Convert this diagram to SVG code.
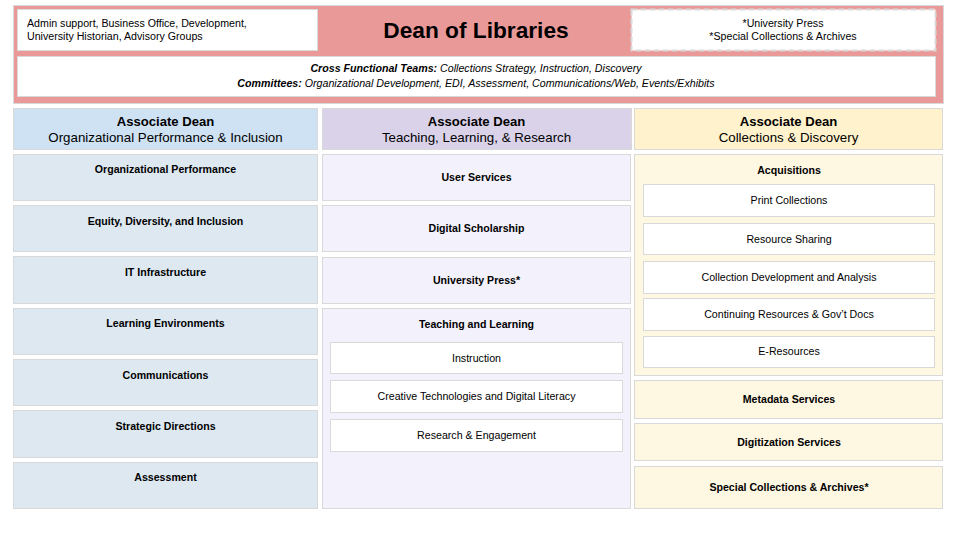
<svg xmlns="http://www.w3.org/2000/svg" width="960" height="540" viewBox="0 0 960 540">
<style>
text{font-family:"Liberation Sans",Arial,sans-serif;fill:#000}
.b{stroke:#d9d9d9;stroke-width:1}
.w{fill:#fff}
.lbl{font-size:10.6px;font-weight:bold;text-anchor:middle}
.sub{font-size:10.65px;text-anchor:middle}
.h1{font-size:13.1px;font-weight:bold;text-anchor:middle}
.h2{font-size:13.3px;text-anchor:middle}
.blue{fill:#dde8f1}
.purple{fill:#f3f1fb}
.yellow{fill:#fef7e2}
</style>
<rect width="960" height="540" fill="#fff"/>
<g id="dean">
<rect x="13.5" y="5.5" width="930" height="98" fill="#ea9999" class="b"/>
<text x="476" y="38" font-size="22.7" font-weight="bold" text-anchor="middle">Dean of Libraries</text>
</g>
<g id="admin">
<rect x="17.5" y="9.5" width="300" height="41" class="b w"/>
<text x="27" y="27" font-size="10.65">Admin support, Business Office, Development,</text>
<text x="27" y="40" font-size="10.65">University Historian, Advisory Groups</text>
</g>
<g id="starred">
<rect x="631.5" y="9.5" width="304" height="41" fill="#fff" stroke="#d9d9d9" stroke-width="2" stroke-dasharray="6,3"/>
<text x="783" y="27" class="sub">*University Press</text>
<text x="783" y="40" class="sub">*Special Collections &amp; Archives</text>
</g>
<g id="teams">
<rect x="17.5" y="56.5" width="918" height="40" class="b w"/>
<text x="476" y="72" class="sub" font-style="italic"><tspan font-weight="bold">Cross Functional Teams:</tspan> Collections Strategy, Instruction, Discovery</text>
<text x="476" y="87" class="sub" font-style="italic"><tspan font-weight="bold">Committees:</tspan> Organizational Development, EDI, Assessment, Communications/Web, Events/Exhibits</text>
</g>
<g id="ad-opi">
<rect x="13.5" y="108.5" width="304" height="41" fill="#cfe2f3" class="b"/>
<text x="165.5" y="126" class="h1">Associate Dean</text>
<text x="165.5" y="142" class="h2">Organizational Performance &amp; Inclusion</text>
</g>
<g id="ad-tlr">
<rect x="322.5" y="108.5" width="309" height="41" fill="#d9d2e9" class="b"/>
<text x="476.5" y="126" class="h1">Associate Dean</text>
<text x="476.5" y="142" class="h2">Teaching, Learning, &amp; Research</text>
</g>
<g id="ad-cd">
<rect x="634.5" y="108.5" width="308" height="41" fill="#fff2cc" class="b"/>
<text x="788.5" y="126" class="h1">Associate Dean</text>
<text x="788.5" y="142" class="h2">Collections &amp; Discovery</text>
</g>
<g id="org-perf"><rect x="13.5" y="154.5" width="304" height="46" class="b blue"/><text x="165.5" y="173" class="lbl">Organizational Performance</text></g>
<g id="edi"><rect x="13.5" y="205.5" width="304" height="46" class="b blue"/><text x="165.5" y="225" class="lbl">Equity, Diversity, and Inclusion</text></g>
<g id="it"><rect x="13.5" y="256.5" width="304" height="47" class="b blue"/><text x="165.5" y="276" class="lbl">IT Infrastructure</text></g>
<g id="learn-env"><rect x="13.5" y="308.5" width="304" height="46" class="b blue"/><text x="165.5" y="327" class="lbl">Learning Environments</text></g>
<g id="comms"><rect x="13.5" y="359.5" width="304" height="46" class="b blue"/><text x="165.5" y="379" class="lbl">Communications</text></g>
<g id="strategic"><rect x="13.5" y="410.5" width="304" height="47" class="b blue"/><text x="165.5" y="430" class="lbl">Strategic Directions</text></g>
<g id="assessment"><rect x="13.5" y="462.5" width="304" height="46" class="b blue"/><text x="165.5" y="481" class="lbl">Assessment</text></g>
<g id="user-services"><rect x="322.5" y="154.5" width="308" height="46" class="b purple"/><text x="476.5" y="181" class="lbl">User Services</text></g>
<g id="digital-scholarship"><rect x="322.5" y="205.5" width="308" height="46" class="b purple"/><text x="476.5" y="232" class="lbl">Digital Scholarship</text></g>
<g id="univ-press"><rect x="322.5" y="257.5" width="308" height="46" class="b purple"/><text x="476.5" y="284" class="lbl">University Press*</text></g>
<g id="teaching-learning">
<rect x="322.5" y="308.5" width="308" height="200" class="b purple"/>
<text x="476.5" y="328" class="lbl">Teaching and Learning</text>
</g>
<g id="instruction"><rect x="330.5" y="342.5" width="292" height="31" class="b w"/><text x="476.5" y="361.5" class="sub">Instruction</text></g>
<g id="creative-tech"><rect x="330.5" y="380.5" width="292" height="32" class="b w"/><text x="476.5" y="400" class="sub">Creative Technologies and Digital Literacy</text></g>
<g id="research-eng"><rect x="330.5" y="419.5" width="292" height="32" class="b w"/><text x="476.5" y="439" class="sub">Research &amp; Engagement</text></g>
<g id="acquisitions">
<rect x="634.5" y="154.5" width="308" height="221" class="b yellow"/>
<text x="789" y="174" class="lbl">Acquisitions</text>
</g>
<g id="print"><rect x="643.5" y="184.5" width="291" height="32" class="b w"/><text x="789" y="204" class="sub">Print Collections</text></g>
<g id="resource-sharing"><rect x="643.5" y="223.5" width="291" height="31" class="b w"/><text x="789" y="243" class="sub">Resource Sharing</text></g>
<g id="coll-dev"><rect x="643.5" y="261.5" width="291" height="32" class="b w"/><text x="789" y="281" class="sub">Collection Development and Analysis</text></g>
<g id="continuing"><rect x="643.5" y="298.5" width="291" height="32" class="b w"/><text x="789" y="318" class="sub">Continuing Resources &amp; Gov’t Docs</text></g>
<g id="e-resources"><rect x="643.5" y="336.5" width="291" height="31" class="b w"/><text x="789" y="355" class="sub">E-Resources</text></g>
<g id="metadata"><rect x="634.5" y="380.5" width="308" height="38" class="b yellow"/><text x="789" y="403" class="lbl">Metadata Services</text></g>
<g id="digitization"><rect x="634.5" y="423.5" width="308" height="37" class="b yellow"/><text x="789" y="446" class="lbl">Digitization Services</text></g>
<g id="special-coll"><rect x="634.5" y="466.5" width="308" height="42" class="b yellow"/><text x="789" y="491" class="lbl">Special Collections &amp; Archives*</text></g>
<g id="connectors"></g>
</svg>
